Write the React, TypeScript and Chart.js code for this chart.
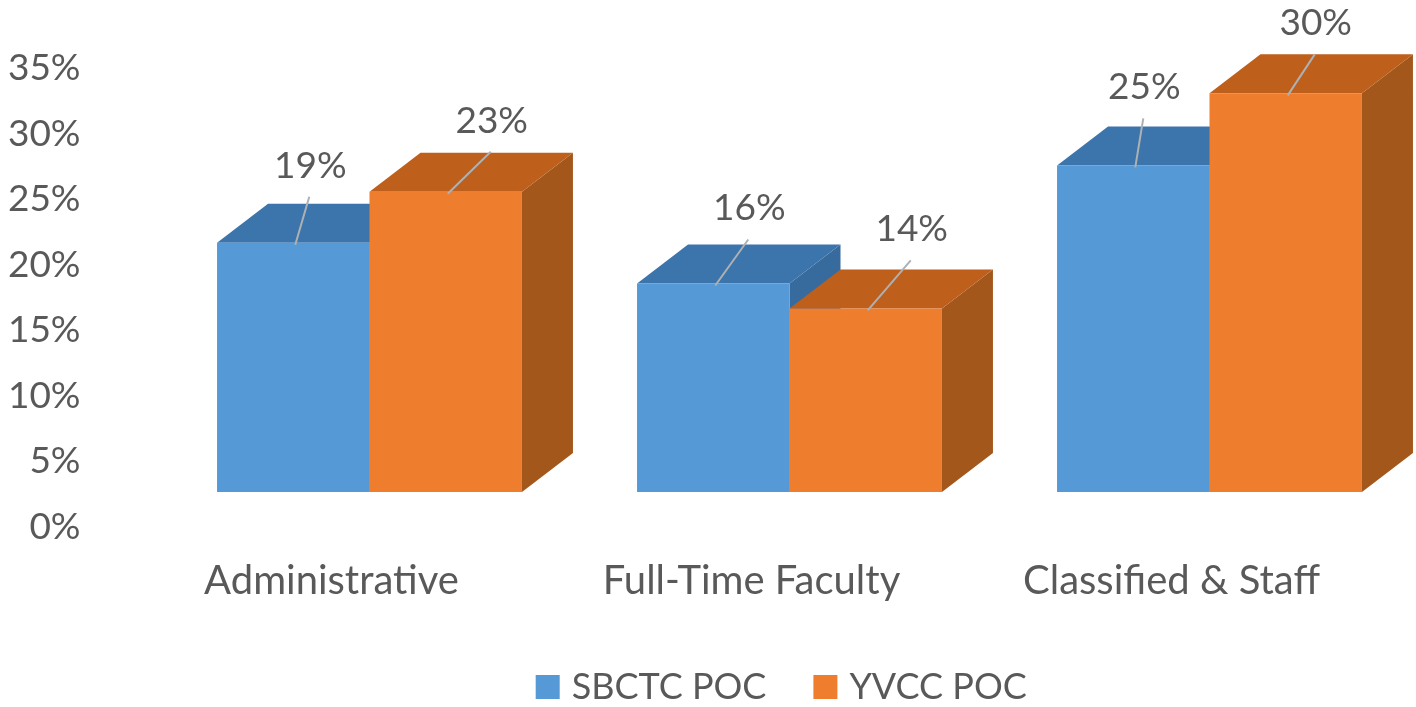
import React, { useEffect, useRef } from "react";
import { Chart, registerables } from "chart.js";

Chart.register(...registerables);

const categories = ["Administrative", "Full-Time Faculty", "Classified & Staff"];
const sbctcValues = [19, 15.9, 24.9];
const yvccValues = [22.9, 14, 30.4];
const yTicks = [0, 5, 10, 15, 20, 25, 30, 35];
const seriesNames = ["SBCTC POC", "YVCC POC"];

const FONT = "Lato";
const TEXT = "#595959";
const DEPTH_X = 51;
const DEPTH_Y = -39;
const frontColors = ["#5599D6", "#EF7D2E"];
const topColors = ["#3C74AC", "#BE5F1B"];
const sideColors = ["#376B9E", "#A3571B"];
const labelOffsets = [
  [[17, -78], [46, -72]],
  [[36, -76], [46, -80]],
  [[11, -79], [30, -71]],
];

const threeD = {
  id: "threeD",
  afterLayout(chart: any) {
    const lg = chart.legend;
    if (!lg) return;
    const h = lg.bottom - lg.top;
    lg.left += 74.5;
    lg.right += 74.5;
    lg.top = 616;
    lg.bottom = lg.top + h;
  },
  beforeDatasetsDraw(chart: any) {
    const ctx = chart.ctx;
    chart.data.datasets.forEach((_: any, d: number) => {
      chart.getDatasetMeta(d).data.forEach((bar: any) => {
        const { x, y, base, width } = bar.getProps(["x", "y", "base", "width"], true);
        const l = x - width / 2;
        const r = x + width / 2;
        ctx.fillStyle = sideColors[d];
        ctx.beginPath();
        ctx.moveTo(r, y);
        ctx.lineTo(r + DEPTH_X, y + DEPTH_Y);
        ctx.lineTo(r + DEPTH_X, base + DEPTH_Y);
        ctx.lineTo(r, base);
        ctx.closePath();
        ctx.fill();
        ctx.fillStyle = topColors[d];
        ctx.beginPath();
        ctx.moveTo(l, y);
        ctx.lineTo(l + DEPTH_X, y + DEPTH_Y);
        ctx.lineTo(r + DEPTH_X, y + DEPTH_Y);
        ctx.lineTo(r, y);
        ctx.closePath();
        ctx.fill();
      });
    });
  },
  afterDatasetsDraw(chart: any) {
    const ctx = chart.ctx;
    chart.data.datasets.forEach((ds: any, d: number) => {
      chart.getDatasetMeta(d).data.forEach((bar: any, i: number) => {
        const { x, y } = bar.getProps(["x", "y"], true);
        const [dx, dy] = labelOffsets[i][d];
        ctx.strokeStyle = "#ADB1B3";
        ctx.lineWidth = 2;
        ctx.beginPath();
        ctx.moveTo(x + 2, y + 2);
        ctx.lineTo(x + dx - 1, y + dy + 32);
        ctx.stroke();
        ctx.fillStyle = TEXT;
        ctx.font = `37px ${FONT}`;
        ctx.textAlign = "center";
        ctx.textBaseline = "middle";
        ctx.fillText(`${Math.round(ds.data[i])}%`, x + dx, y + dy + 1);
      });
    });
  },
};

export default function App() {
  const ref = useRef<HTMLCanvasElement>(null);
  useEffect(() => {
    const chart = new Chart(ref.current!, {
      type: "bar",
      data: {
        labels: categories,
        datasets: [
          { label: seriesNames[0], data: sbctcValues, backgroundColor: frontColors[0] },
          { label: seriesNames[1], data: yvccValues, backgroundColor: frontColors[1] },
        ],
      },
      plugins: [threeD],
      options: {
        animation: false,
        responsive: false,
        layout: { padding: { top: 33, right: 0.5, left: 0, bottom: 0 } },
        datasets: { bar: { barPercentage: 1, categoryPercentage: 0.726, borderWidth: 0 } },
        plugins: {
          tooltip: { enabled: false },
          legend: {
            position: "bottom",
            labels: {
              color: TEXT,
              font: { family: FONT, size: 36 },
              usePointStyle: true,
              pointStyle: "rect",
              boxWidth: 12,
              boxHeight: 24,
              padding: 53,
            },
          },
        },
        scales: {
          x: {
            grid: { display: false },
            border: { display: false },
            ticks: {
              color: TEXT,
              font: { family: FONT, size: 40 },
              padding: 57,
              labelOffset: -38,
              maxRotation: 0,
              autoSkip: false,
            },
            afterFit: (s: any) => {
              s.height = 215 - (s.chart.legend?.height ?? 0);
              s.paddingLeft = 0;
              s.paddingRight = 0;
            },
          },
          y: {
            min: 0,
            max: 35,
            afterBuildTicks: (s: any) => {
              s.ticks = yTicks.map((value) => ({ value }));
            },
            grid: { display: false },
            border: { display: false },
            ticks: {
              color: TEXT,
              font: { family: FONT, size: 37 },
              padding: 71,
              labelOffset: 35,
              callback: (v: any) => `${v}%`,
            },
            afterFit: (s: any) => {
              s.width = 159.5;
              s.paddingTop = 0;
              s.paddingBottom = 0;
            },
          },
        },
      } as any,
    });
    return () => chart.destroy();
  }, []);
  return (
    <div style={{ position: "fixed", left: 0, top: 0, width: 1416, height: 707, overflow: "hidden", background: "#fff" }}>
      <canvas ref={ref} width={1420} height={707} style={{ display: "block" }} />
    </div>
  );
}
